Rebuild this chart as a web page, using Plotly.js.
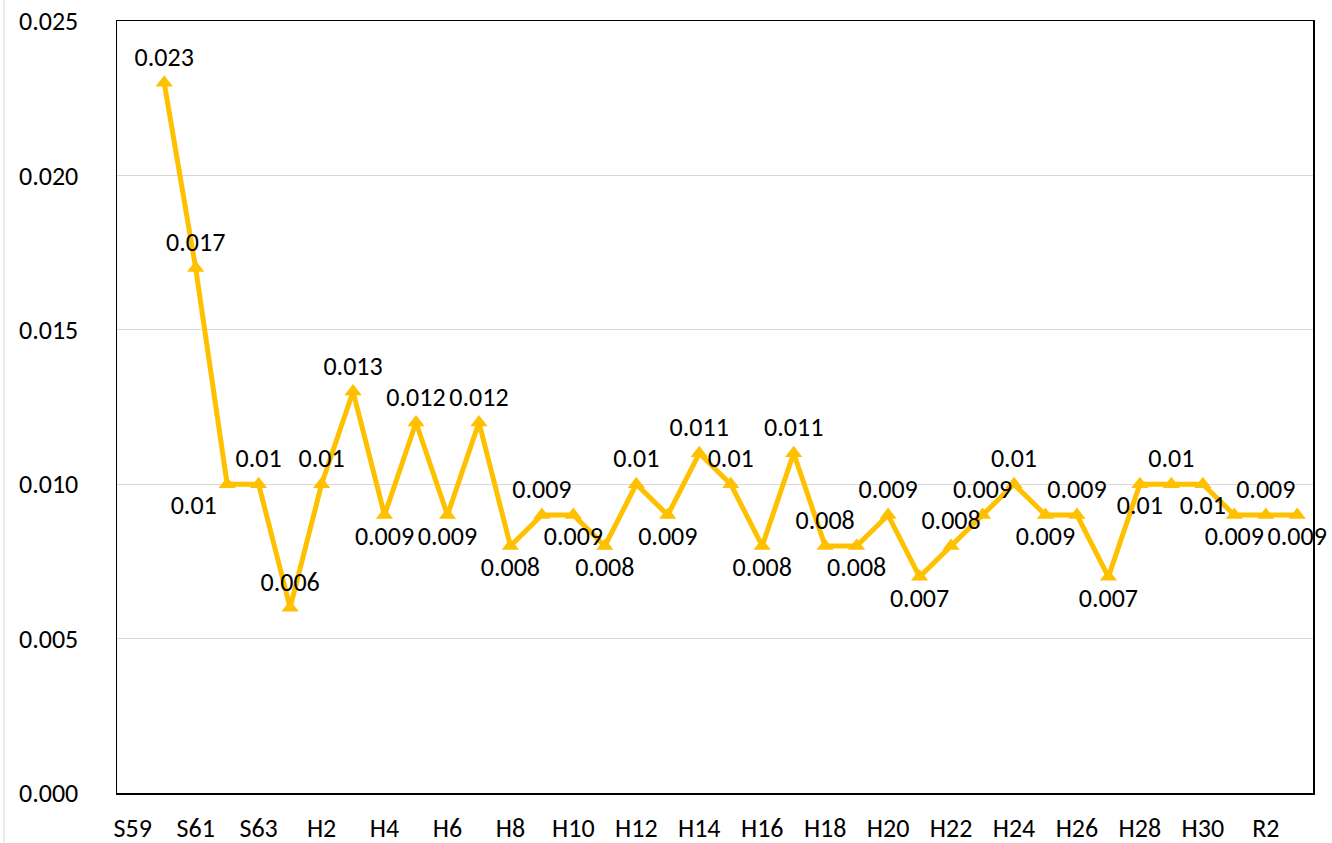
<!DOCTYPE html>
<html>
<head>
<meta charset="utf-8">
<script src="https://cdn.plot.ly/plotly-3.0.1.min.js"></script>
<style>html,body{margin:0;padding:0;background:#fff;}#chart{width:1332px;height:843px;}</style>
</head>
<body>
<div id="chart"></div>
<script>
const categories = ["S59","S60","S61","S62","S63","H1","H2","H3","H4","H5","H6","H7","H8","H9","H10","H11","H12","H13","H14","H15","H16","H17","H18","H19","H20","H21","H22","H23","H24","H25","H26","H27","H28","H29","H30","R1","R2","R3"];
const values = [null,0.023,0.017,0.01,0.01,0.006,0.01,0.013,0.009,0.012,0.009,0.012,0.008,0.009,0.009,0.008,0.01,0.009,0.011,0.01,0.008,0.011,0.008,0.008,0.009,0.007,0.008,0.009,0.01,0.009,0.009,0.007,0.01,0.01,0.01,0.009,0.009,0.009];
const labelPositions = ["top center","top center","top center","bottom left","top center","top center","top center","top center","bottom center","top center","bottom center","top center","bottom center","top center","bottom center","bottom center","top center","bottom center","top center","top center","bottom center","top center","top center","bottom center","top center","bottom center","top center","top center","top center","bottom center","top center","bottom center","bottom center","top center","bottom center","bottom center","top center","bottom center"];
const yTicks = [0,0.005,0.01,0.015,0.02,0.025];

const FONT = "Carlito, Calibri, 'Noto Sans', sans-serif";
const FS = 26;
const labels = values.map(v => v === null ? "" : String(v));
const xTicks = categories.filter((c,i) => i % 2 === 0);

const trace = {
  x: categories,
  y: values,
  type: "scatter",
  mode: "lines+markers+text",
  text: labels,
  textposition: labelPositions,
  textfont: {family: FONT, size: FS, color: "#000"},
  line: {color: "#FFC000", width: 5},
  marker: {symbol: "triangle-up", size: 15, color: "#FFC000"},
  cliponaxis: false,
  connectgaps: false,
  hoverinfo: "x+y"
};

const layout = {
  width: 1332, height: 843,
  margin: {l: 117, r: 19, t: 21, b: 50},
  paper_bgcolor: "#fff", plot_bgcolor: "#fff",
  showlegend: false,
  font: {family: FONT, size: FS, color: "#000"},
  xaxis: {
    type: "category",
    categoryorder: "array", categoryarray: categories,
    range: [-0.5, categories.length - 0.5],
    autorange: false,
    tickmode: "array", tickvals: xTicks, ticktext: xTicks,
    showgrid: false, zeroline: false,
    showline: true, linecolor: "#000", linewidth: 1.5, mirror: true,
    ticks: "", ticklabelstandoff: 11,
    tickfont: {family: FONT, size: FS, color: "#000"}
  },
  yaxis: {
    range: [0, 0.025],
    autorange: false,
    tickmode: "array", tickvals: yTicks,
    ticktext: yTicks.map(v => v.toFixed(3)),
    showgrid: true, gridcolor: "#d9d9d9", gridwidth: 1,
    zeroline: false,
    showline: true, linecolor: "#000", linewidth: 1.5, mirror: true,
    ticks: "", ticklabelstandoff: 32,
    tickfont: {family: FONT, size: FS, color: "#000"}
  },
  shapes: [{type: "line", xref: "paper", yref: "paper", x0: -0.0945, x1: -0.0945, y0: -0.07, y1: 1.03, line: {color: "#d9d9d9", width: 1}}]
};

Plotly.newPlot("chart", [trace], layout, {displayModeBar: false, staticPlot: true});
</script>
</body>
</html>
